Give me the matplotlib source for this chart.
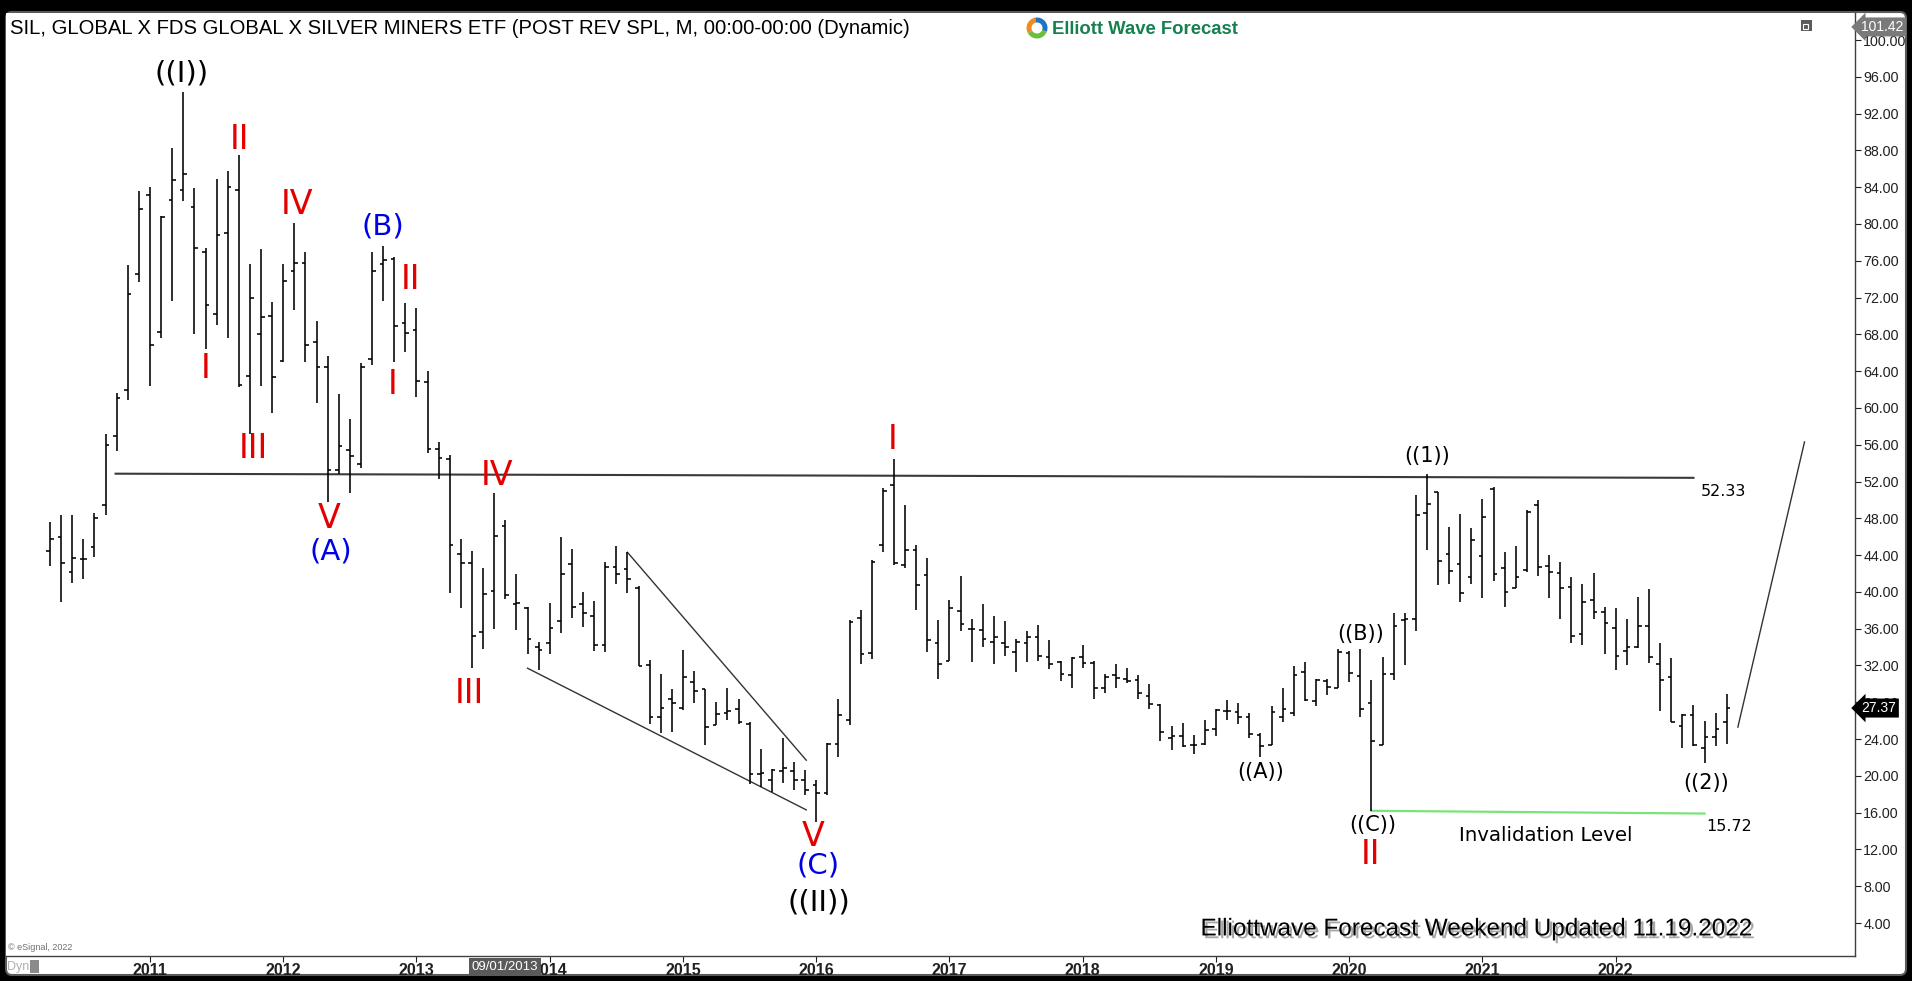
import numpy as np
import pandas as pd
import matplotlib
matplotlib.use("Agg")
import matplotlib.pyplot as plt
import matplotlib.patheffects as pe
from matplotlib import font_manager as fm
from matplotlib.patches import Rectangle, Wedge, FancyBboxPatch
from matplotlib.transforms import blended_transform_factory

# ---------------- data (monthly OHLC, Apr 2010 .. Nov 2022) ----------------
months = pd.period_range("2010-04", "2022-11", freq="M")

opens = [
    44.4, 46.0, 42.2, 43.6, 44.9, 49.4, 56.9, 61.9, 74.6,                      # 2010
    83.2, 68.2, 82.6, 83.7, 81.8, 77.0, 70.2, 79.0, 83.7, 63.5, 68.0, 70.0,    # 2011
    65.1, 74.9, 75.8, 67.2, 64.4, 53.3, 55.4, 53.9, 65.3, 75.7, 76.2, 69.2,    # 2012
    68.5, 62.8, 55.5, 54.5, 44.1, 43.1, 35.6, 40.1, 47.2, 38.7, 38.3, 34.0,    # 2013
    34.4, 36.8, 43.0, 38.7, 37.4, 34.2, 42.7, 42.5, 40.4, 32.1, 26.4, 28.4,    # 2014
    27.4, 30.2, 29.4, 25.5, 26.8, 27.3, 25.6, 20.2, 19.6, 20.5, 20.5, 19.5,    # 2015
    19.0, 18.1, 23.5, 26.1, 37.2, 33.4, 45.1, 51.6, 42.9, 44.5, 41.8, 34.4,    # 2016
    32.5, 37.9, 36.0, 35.9, 34.6, 34.4, 33.5, 34.4, 35.1, 32.9, 32.4, 31.0,    # 2017
    32.9, 32.3, 29.5, 31.0, 30.5, 30.4, 28.7, 27.7, 24.1, 24.3, 23.35, 23.5,   # 2018
    25.1, 27.0, 26.9, 26.4, 24.4, 23.4, 26.4, 26.8, 31.3, 28.1, 30.35, 29.6,   # 2019
    33.4, 30.9, 27.9, 23.4, 31.1, 36.9, 37.1, 48.6, 50.9, 44.1, 43.0, 41.65,   # 2020
    43.9, 51.2, 42.6, 40.4, 42.4, 49.45, 42.8, 42.1, 40.5, 35.4, 39.1, 37.85,  # 2021
    36.1, 33.6, 34.0, 36.3, 32.2, 30.7, 25.4, 26.6, 23.0, 24.2, 25.8,          # 2022
]
highs = [
    47.6, 48.4, 48.4, 45.7, 48.6, 57.2, 61.6, 75.5, 83.6,
    84.0, 80.9, 88.3, 94.3, 83.9, 77.4, 84.9, 85.8, 87.5, 75.7, 77.3, 71.5,
    75.6, 80.1, 77.0, 69.5, 65.6, 61.5, 58.75, 64.9, 77.0, 77.6, 76.4, 71.4,
    70.9, 64.0, 56.3, 54.9, 45.8, 44.4, 42.6, 50.8, 47.8, 41.9, 38.4, 34.6,
    38.8, 46.0, 44.7, 40.0, 39.0, 43.2, 45.0, 44.3, 40.6, 32.6, 31.1, 29.4,
    33.7, 31.4, 29.4, 28.0, 29.6, 28.3, 25.8, 22.9, 20.7, 24.1, 21.5, 20.6,
    19.5, 23.6, 28.4, 36.9, 38.0, 43.5, 51.3, 54.5, 49.4, 45.1, 43.65, 36.9,
    39.1, 41.7, 37.1, 38.7, 37.4, 36.8, 34.9, 35.8, 36.4, 34.8, 32.5, 32.9,
    34.2, 32.5, 31.1, 32.2, 31.7, 31.0, 30.0, 27.8, 25.4, 25.7, 24.4, 26.1,
    27.3, 28.2, 27.9, 26.8, 24.7, 27.6, 29.6, 31.9, 32.4, 30.5, 30.5, 33.8,
    33.6, 33.8, 30.4, 32.9, 37.7, 37.7, 50.5, 52.8, 50.9, 47.1, 48.5, 46.9,
    50.07, 51.4, 44.3, 45.0, 48.9, 50.0, 44.0, 43.2, 41.65, 40.9, 42.1, 38.4,
    38.3, 37.0, 39.4, 40.28, 34.4, 32.8, 26.7, 27.7, 26.0, 26.8, 28.9,
]
lows = [
    42.8, 38.9, 41.0, 41.4, 43.8, 48.4, 55.3, 60.9, 73.7,
    62.4, 67.6, 71.6, 82.5, 68.0, 66.4, 69.0, 67.6, 62.3, 57.2, 62.4, 59.5,
    65.0, 70.6, 65.0, 60.5, 49.8, 52.8, 50.7, 53.5, 64.7, 71.6, 65.0, 66.1,
    61.2, 55.1, 52.3, 39.9, 38.3, 31.7, 33.8, 36.0, 39.2, 35.9, 33.3, 31.5,
    33.2, 35.5, 37.2, 36.2, 33.6, 33.5, 40.9, 39.9, 31.9, 25.6, 24.7, 24.8,
    27.2, 27.9, 23.4, 25.5, 26.1, 25.6, 19.1, 18.8, 18.2, 19.2, 18.5, 17.9,
    15.0, 17.9, 22.1, 25.5, 32.2, 32.7, 44.3, 42.9, 42.6, 38.0, 33.5, 30.5,
    32.5, 35.8, 32.4, 34.0, 32.2, 33.0, 31.3, 32.4, 32.5, 31.6, 30.3, 29.5,
    31.7, 28.3, 29.0, 29.6, 30.1, 28.4, 27.3, 23.8, 22.8, 23.1, 22.4, 23.3,
    24.3, 26.1, 25.6, 24.1, 22.0, 23.4, 25.8, 26.5, 28.1, 27.6, 28.8, 29.5,
    30.2, 26.4, 16.2, 23.3, 30.4, 32.0, 35.8, 44.6, 40.8, 40.9, 38.9, 40.86,
    39.3, 41.2, 38.4, 40.4, 42.2, 41.7, 39.3, 37.1, 34.4, 34.2, 37.1, 33.3,
    31.5, 32.05, 33.9, 32.3, 27.1, 25.9, 23.0, 23.2, 21.4, 23.2, 23.5,
]
closes = [
    45.7, 43.1, 43.7, 43.6, 48.0, 56.0, 61.1, 72.4, 81.6,
    66.8, 80.8, 84.8, 85.4, 77.4, 71.2, 78.8, 84.0, 62.5, 71.9, 69.9, 63.4,
    73.8, 75.8, 66.8, 64.4, 53.3, 55.9, 54.8, 64.5, 74.9, 76.1, 68.9, 68.1,
    62.9, 55.5, 54.6, 45.1, 43.1, 35.2, 39.8, 46.1, 39.7, 38.8, 34.9, 33.7,
    36.1, 41.9, 38.4, 37.7, 34.2, 42.7, 41.9, 41.4, 31.9, 26.4, 27.4, 27.9,
    30.7, 29.2, 25.3, 26.7, 27.1, 25.8, 20.2, 20.3, 20.6, 20.8, 19.5, 18.5,
    18.1, 23.5, 26.6, 36.7, 33.2, 43.3, 51.0, 43.1, 44.5, 40.7, 34.8, 32.2,
    38.2, 36.5, 36.0, 34.9, 35.06, 34.0, 34.6, 35.1, 33.0, 32.2, 31.1, 32.8,
    32.3, 29.6, 30.8, 30.6, 30.3, 29.0, 27.8, 24.8, 24.3, 23.2, 23.35, 25.0,
    27.2, 27.0, 26.4, 24.5, 23.2, 26.9, 27.3, 31.0, 28.2, 30.4, 29.7, 33.5,
    31.2, 27.3, 23.8, 31.1, 36.3, 37.1, 48.4, 49.6, 43.4, 42.3, 39.9, 45.6,
    48.1, 41.9, 39.95, 41.65, 48.7, 42.7, 42.2, 40.4, 35.2, 38.9, 37.85, 36.65,
    33.0, 34.0, 36.3, 32.9, 30.4, 25.9, 26.6, 23.35, 24.2, 25.05, 27.37,
]

year_labels = [str(y) for y in range(2011, 2023)]
y_ticks = list(range(4, 101, 4))
last_price = 27.37
top_price = 101.42
resistance = [52.85, 52.40]     # drawn level (label 52.33)
invalidation = [16.2, 15.9]     # drawn level (label 15.72)

# wave labels: text, month-position (0 = Jan 2011), price, colour, size
RED, BLUE, BLACK = "#e50000", "#0000e6", "#000000"
labels = [
    ("((I))", 2.85, 96.4, BLACK, 21),
    ("II", 8.1, 89.2, RED, 24),
    ("IV", 13.2, 82.1, RED, 24),
    ("(B)", 21.0, 79.7, BLUE, 21),
    ("II", 23.5, 74.0, RED, 24),
    ("I", 5.0, 64.3, RED, 24),
    ("I", 21.85, 62.5, RED, 24),
    ("III", 9.3, 55.6, RED, 24),
    ("V", 16.1, 48.0, RED, 24),
    ("(A)", 16.3, 44.4, BLUE, 21),
    ("IV", 31.3, 52.6, RED, 24),
    ("III", 28.8, 29.0, RED, 24),
    ("I", 66.9, 56.6, RED, 24),
    ("V", 59.75, 13.4, RED, 24),
    ("(C)", 60.2, 10.2, BLUE, 21),
    ("((II))", 60.2, 6.2, BLACK, 21),
    ("((1))", 115.0, 54.8, BLACK, 15),
    ("((B))", 109.05, 35.4, BLACK, 15),
    ("((A))", 100.05, 20.4, BLACK, 15),
    ("((C))", 110.1, 14.7, BLACK, 15),
    ("II", 109.9, 11.4, RED, 24),
    ("((2))", 140.1, 19.2, BLACK, 15),
]

# ---------------- figure ----------------
W, H = 1912, 981
fig = plt.figure(figsize=(W / 100, H / 100), dpi=100, facecolor="black")

avail = {f.name for f in fm.fontManager.ttflist}
ARIAL = "Liberation Sans"
NARROW = "Liberation Sans Narrow" if "Liberation Sans Narrow" in avail else "Liberation Sans"

bg = fig.add_axes([0, 0, 1, 1], zorder=0)
bg.set_xlim(0, W); bg.set_ylim(H, 0); bg.axis("off")
bg.add_patch(FancyBboxPatch((6, 12), 1900, 963, boxstyle="round,pad=0,rounding_size=6",
                            fc="white", ec="#5a5a5a", lw=1.5))

# main axes in pixel geometry
L, R, T, B = 6, 1855, 13, 956
ax = fig.add_axes([L / W, 1 - B / H, (R - L) / W, (B - T) / H], zorder=1)
ax.set_facecolor("white")
X0, DX = 150.0, 11.104          # Jan 2011 pixel, pixels per month
Y100, DY = 40.0, 9.198          # pixel of 100.00, pixels per unit
ax.set_xlim((L - X0) / DX, (R - X0) / DX)
ax.set_ylim(100 - (B - Y100) / DY, 100 + (Y100 - T) / DY)

for s in ("left", "top"):
    ax.spines[s].set_visible(False)
for s in ("right", "bottom"):
    ax.spines[s].set_color("#404040")
    ax.spines[s].set_linewidth(1.0)

ax.yaxis.tick_right()
ax.set_yticks(y_ticks)
ax.set_yticklabels([f"{v:.2f}" for v in y_ticks], fontsize=10.3, family=ARIAL)
ax.tick_params(axis="y", length=4, width=0.8, pad=2, colors="#202020")
ax.set_xticks([12 * i for i in range(len(year_labels))])
ax.set_xticklabels(year_labels, fontsize=11.5, family=NARROW, fontweight="bold")
ax.tick_params(axis="x", length=4, width=0.8, pad=1, colors="#202020")

# OHLC bars
xpos = np.array([(p.year - 2011) * 12 + (p.month - 1) for p in months], dtype=float)
tk = 0.33
ax.vlines(xpos, lows, highs, color="black", lw=1.15, zorder=3)
ax.hlines(opens, xpos - tk, xpos, color="black", lw=1.15, zorder=3)
ax.hlines(closes, xpos, xpos + tk, color="black", lw=1.15, zorder=3)

# annotation lines
ax.plot([-3.1, 139.0], resistance, color="#3a3a3a", lw=1.5, zorder=2)
ax.plot([110.0, 140.0], invalidation, color="#7be37b", lw=1.6, zorder=2)
ax.plot([43.0, 59.1], [44.3, 21.7], color="#333333", lw=1.0, zorder=2)
ax.plot([34.0, 59.1], [31.7, 16.3], color="#333333", lw=1.0, zorder=2)
ax.plot([143.0, 149.0], [25.3, 56.3], color="#333333", lw=1.0, zorder=2)

for txt, xm, yp, col, sz in labels:
    ax.text(xm, yp, txt, color=col, fontsize=sz, family="DejaVu Sans",
            ha="center", va="center", zorder=4)

ax.text(141.7, 50.9, "52.33", fontsize=11.5, family="DejaVu Sans", ha="center", va="center")
ax.text(142.2, 14.5, "15.72", fontsize=11.5, family="DejaVu Sans", ha="center", va="center")
ax.text(125.7, 13.5, "Invalidation Level", fontsize=14.2, family="DejaVu Sans",
        ha="center", va="center")

ax.text(119.4, 3.3, "Elliottwave Forecast Weekend Updated 11.19.2022", fontsize=17.5,
        family=ARIAL, ha="center", va="center", zorder=5,
        path_effects=[pe.withSimplePatchShadow(offset=(2, -2), shadow_rgbFace="#808080", alpha=0.7)])

# price flags on the right axis
bt = blended_transform_factory(ax.transAxes, ax.transData)
ax.text(1.0035, top_price, "101.42", transform=bt, fontsize=10, family=ARIAL, color="white",
        ha="left", va="center", clip_on=False, zorder=6,
        bbox=dict(boxstyle="larrow,pad=0.18", fc="#7a7a7a", ec="none"))
ax.text(1.0035, last_price, "27.37", transform=bt, fontsize=10, family=ARIAL, color="white",
        ha="left", va="center", clip_on=False, zorder=6,
        bbox=dict(boxstyle="larrow,pad=0.18", fc="#000000", ec="none"))

# ---------------- overlay texts / decorations ----------------
ov = fig.add_axes([0, 0, 1, 1], zorder=3)
ov.set_xlim(0, W); ov.set_ylim(H, 0); ov.axis("off"); ov.patch.set_alpha(0)

ov.text(10, 29, "SIL, GLOBAL X FDS GLOBAL X SILVER MINERS ETF (POST REV SPL, M, 00:00-00:00 (Dynamic)",
        fontsize=14.55, family=ARIAL, ha="left", va="center", color="black")
# logo
cx, cy, r = 1037, 28, 10.5
ov.add_patch(Wedge((cx, cy), r, 150, 260, width=5, fc="#f08a24", ec="none"))
ov.add_patch(Wedge((cx, cy), r, 20, 150, width=5, fc="#6dbf3a", ec="none"))
ov.add_patch(Wedge((cx, cy), r, 260, 380, width=5, fc="#1f73c6", ec="none"))
ov.text(1052, 29, "Elliott Wave Forecast", fontsize=13.3, family=ARIAL, fontweight="bold",
        color="#16804f", ha="left", va="center")
# small window icon
ov.add_patch(Rectangle((1801, 20), 11, 11, fc="#5c5c5c", ec="none"))
ov.add_patch(Rectangle((1803, 24), 5, 5, fc="none", ec="white", lw=0.8))
# bottom-left items
ov.text(8, 947, "\u00a9 eSignal, 2022", fontsize=6.5, family=ARIAL, color="#707070",
        ha="left", va="center")
ov.text(7, 967, "Dyn", fontsize=9, family=ARIAL, color="#b0b0b0", ha="left", va="center")
ov.add_patch(Rectangle((30, 960), 9, 13, fc="#8a8a8a", ec="none"))
ov.text(505, 967, "09/01/2013", fontsize=9.5, family=NARROW, color="white", ha="center",
        va="center", bbox=dict(boxstyle="square,pad=0.2", fc="#5a5a5a", ec="none"))

fig.savefig("out.png", dpi=100, facecolor=fig.get_facecolor())
